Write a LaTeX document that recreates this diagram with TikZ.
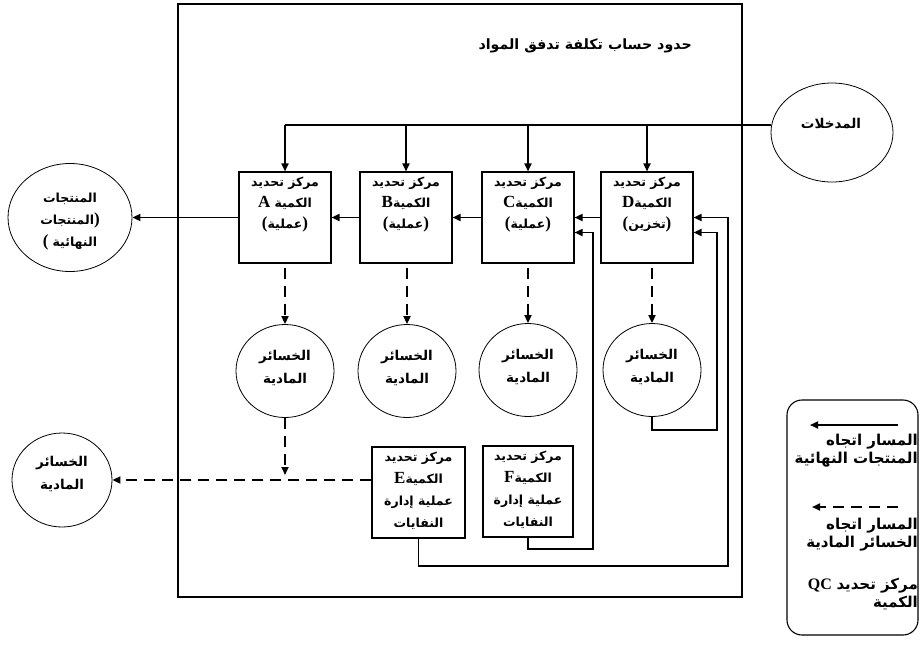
\documentclass[tikz,border=0pt]{standalone}
\usepackage{fontspec}
\usetikzlibrary{arrows.meta,shapes.geometric,calc}
\TeXXeTstate=1
\newfontfamily\arabicfont[Script=Arabic]{DejaVu Sans}
\newfontfamily\latserif{Liberation Serif}
\newcommand{\artxt}[1]{{\arabicfont\bfseries\beginR #1\endR}}
\newcommand{\lat}[1]{{\latserif\bfseries\fontsize{17}{17}\selectfont #1}}
\begin{document}
\begin{tikzpicture}[x=1pt,y=-1pt,
  qbox/.style={draw, line width=1.1pt, minimum width=92pt, minimum height=91pt, inner sep=0pt},
  wbox/.style={draw, line width=1.1pt, minimum width=92pt, minimum height=91pt, inner sep=0pt},
  lbl/.style={align=center, inner sep=0pt, font=\fontsize{12.5}{21}\selectfont},
  ell/.style={draw, ellipse, line width=0.8pt, inner sep=0pt},
  flow/.style={line width=1.7pt, -{Triangle[length=8pt,width=7pt]}},
  loss/.style={flow, dash pattern=on 11pt off 7pt},
  plain/.style={line width=1.7pt},
  leg/.style={align=right, anchor=north east, inner sep=0pt, font=\fontsize{15}{18}\selectfont}
]
\useasboundingbox (0,0) rectangle (920,646);
% boundary
\node[draw, line width=1.8pt, minimum width=564pt, minimum height=593pt, inner sep=0pt] (bound) at (460,300.5) {};
\node[anchor=east, inner sep=0pt, font=\fontsize{14.2}{16}\selectfont] (title) at (692,46) {\artxt{حدود حساب تكلفة تدفق المواد}};
% inputs
\node[ell, minimum width=122pt, minimum height=99pt] (inp) at (832,132.5) {};
\node[lbl, font=\fontsize{13.5}{16}\selectfont] (inptxt) at (831,124) {\artxt{المدخلات}};
% boxes
\node[qbox] (boxA) at (285,217.5) {};
\node[qbox] (boxB) at (406,217.5) {};
\node[qbox] (boxC) at (528,217.5) {};
\node[qbox] (boxD) at (647,217.5) {};
\node[lbl, anchor=north] (tA) at (285,177) {\artxt{مركز تحديد}\\\lat{A} \artxt{الكمية}\\\lat{(}\artxt{عملية}\lat{)}};
\node[lbl, anchor=north] (tB) at (406,177) {\artxt{مركز تحديد}\\\lat{B}\artxt{الكمية}\\\lat{(}\artxt{عملية}\lat{)}};
\node[lbl, anchor=north] (tC) at (528,177) {\artxt{مركز تحديد}\\\lat{C}\artxt{الكمية}\\\lat{(}\artxt{عملية}\lat{)}};
\node[lbl, anchor=north] (tD) at (647,177) {\artxt{مركز تحديد}\\\lat{D}\artxt{الكمية}\\\lat{(}\artxt{تخزين}\lat{)}};
% products
\node[ell, minimum width=124pt, minimum height=108pt] (prod) at (70,217.5) {};
\node[lbl, font=\fontsize{12.5}{22}\selectfont] (prodtxt) at (70,222) {\artxt{المنتجات}\\\artxt{المنتجات}\lat{)}\\\lat{(} \artxt{النهائية}};
% losses
\node[ell, minimum width=98pt, minimum height=93pt] (lossA) at (285,371) {};
\node[ell, minimum width=98pt, minimum height=93pt] (lossB) at (407,371) {};
\node[ell, minimum width=98pt, minimum height=93pt] (lossC) at (528,370) {};
\node[ell, minimum width=98pt, minimum height=93pt] (lossD) at (652,370) {};
\node[ell, minimum width=100pt, minimum height=94pt] (lossL) at (62,480) {};
\foreach \n/\x/\y in {A/285/368,B/407/368,C/528/367,D/652/367,L/62/474}{
  \node[lbl, font=\fontsize{13.5}{23}\selectfont] (lt\n) at (\x,\y) {\artxt{الخسائر}\\\artxt{المادية}};
}
% E, F
\node[wbox, minimum width=93pt] (boxE) at (418.5,492.5) {};
\node[wbox, minimum width=90pt] (boxF) at (528,491.5) {};
\node[lbl, anchor=north, font=\fontsize{12.5}{22}\selectfont] (tE) at (418.5,452) {\artxt{مركز تحديد}\\\lat{E}\artxt{الكمية}\\\artxt{عملية إدارة}\\\artxt{النفايات}};
\node[lbl, anchor=north, font=\fontsize{12.5}{22}\selectfont] (tF) at (528,451) {\artxt{مركز تحديد}\\\lat{F}\artxt{الكمية}\\\artxt{عملية إدارة}\\\artxt{النفايات}};
% input bus
\coordinate (busR) at (inp.west |- 0,125);
\coordinate (busL) at (boxA.north |- 0,125);
\draw[plain] (busR) -- (busL);
\foreach \b in {A,B,C,D}{
  \draw[flow] (box\b.north |- busL) -- (box\b.north);
}
% product flow
\draw[flow] (boxD.west) -- (boxC.east);
\draw[flow] (boxC.west) -- (boxB.east);
\draw[flow] (boxB.west) -- (boxA.east);
\draw[flow] (boxA.west) -- (prod.east);
% loss flows
\foreach \b in {A,B,C,D}{
  \draw[loss] (loss\b.north |- box\b.south) ++(0,4) -- (loss\b.north);
}
\coordinate (lossbus) at (lossA.south |- 0,475);
\draw[loss] (lossA.south) -- (lossbus);
\draw[loss] (boxE.west |- lossL.east) -- (lossL.east);
% return flows
\coordinate (fR) at (593,549);
\coordinate (eR) at (728,566);
\coordinate (dR) at (717,430);
\draw[flow] (boxF.south) |- (fR) |- ([yshift=-15pt]boxC.east);
\draw[flow] (boxE.south) |- (eR) |- (boxD.east);
\draw[flow] (lossD.south) |- (dR) |- ([yshift=-15pt]boxD.east);
% legend
\node[draw, line width=1.1pt, rounded corners=15pt, minimum width=131pt, minimum height=235pt, inner sep=0pt] (legend) at (852.5,517.5) {};
\coordinate (lg1s) at (898,425);
\coordinate (lg1e) at (810,425);
\coordinate (lg2s) at (898,507);
\coordinate (lg2e) at (812,507);
\draw[flow] (lg1s) -- (lg1e);
\draw[loss] (lg2s) -- (lg2e);
\node[leg] (lgt1) at (918,434) {\artxt{المسار اتجاه}\\\artxt{المنتجات النهائية}};
\node[leg] (lgt2) at (918,518) {\artxt{المسار اتجاه}\\\artxt{الخسائر المادية}};
\node[leg] (lgt3) at (918,578) {{\latserif\bfseries\fontsize{16}{16}\selectfont QC} \artxt{مركز تحديد}\\\artxt{الكمية}};
\end{tikzpicture}
\end{document}
